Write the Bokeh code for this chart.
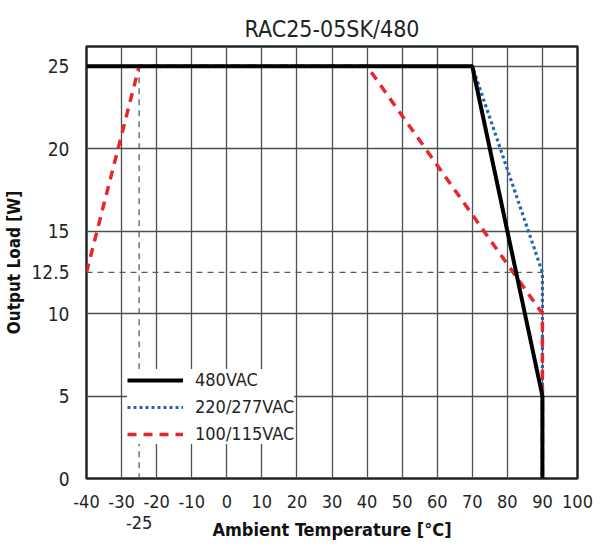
from bokeh.plotting import figure
from bokeh.models import FixedTicker, Legend, LegendItem, Range1d, ColumnDataSource
from bokeh.embed import file_html
from bokeh.resources import INLINE

# ---- data ----
title_text = "RAC25-05SK/480"
x_label = "Ambient Temperature [°C]"
y_label = "Output Load [W]"

x_ticks = [-40, -30, -20, -10, 0, 10, 20, 30, 40, 50, 60, 70, 80, 90, 100]
y_ticks = [0, 5, 10, 12.5, 15, 20, 25]
x_grid = [-30, -20, -10, 0, 10, 20, 30, 40, 50, 60, 70, 80, 90]
y_grid = [5, 10, 15, 20, 25]
extra_tick = -25

series_names = ["480VAC", "220/277VAC", "100/115VAC"]
temp_480 = [-40, 70, 90, 90]
load_480 = [25, 25, 5, 0]
temp_277 = [-40, 70, 90, 90]
load_277 = [25, 25, 12.5, 0]
temp_115 = [-40, -25, 40, 90, 90]
load_115 = [12.5, 25, 25, 10, 0]

# derating reference lines (dashed grey)
ref_x0 = [-25, -40]
ref_y0 = [25, 12.5]
ref_x1 = [-25, 90]
ref_y1 = [0, 12.5]

FONT = "'Liberation Sans Narrow', 'Arial Narrow', 'DejaVu Sans Condensed', sans-serif"
TXT = "#1e2624"

p = figure(width=593, height=542, x_range=Range1d(-40, 100), y_range=Range1d(0, 26.2),
           output_backend="svg", toolbar_location=None,
           min_border_left=86, min_border_right=16, min_border_top=46, min_border_bottom=60)

p.title.text = title_text
p.title.align = "center"
p.title.text_font = FONT
p.title.text_font_size = "23px"
p.title.text_font_style = "normal"
p.title.text_color = TXT
p.title.standoff = 10

p.outline_line_color = "#1c2624"
p.outline_line_width = 2.5
p.background_fill_color = "white"
p.border_fill_color = "white"

for ax in (p.xaxis[0], p.yaxis[0]):
    ax.axis_line_color = None
    ax.major_tick_line_color = None
    ax.minor_tick_line_color = None
    ax.major_label_text_font = FONT
    ax.major_label_text_color = TXT
    ax.axis_label_text_font = FONT
    ax.axis_label_text_font_style = "bold"
    ax.axis_label_text_color = "#111"

# x tick labels with plain hyphens; -25 sits on a second line
overrides = {t: str(t) for t in x_ticks if t < 0}
overrides[extra_tick] = " \n" + str(extra_tick)
p.xaxis.ticker = FixedTicker(ticks=x_ticks + [extra_tick])
p.xaxis.major_label_overrides = overrides
p.xaxis.major_label_text_line_height = 1.0
p.xaxis.major_label_text_font_size = "18px"
p.yaxis.major_label_text_font_size = "19px"
p.yaxis.ticker = FixedTicker(ticks=y_ticks)
p.xaxis.major_label_standoff = 6
p.yaxis.major_label_standoff = 11
p.xaxis.axis_label = x_label
p.yaxis.axis_label = y_label
p.xaxis.axis_label_text_font_size = "18px"
p.yaxis.axis_label_text_font_size = "17px"
p.xaxis.axis_label_standoff = -17
p.yaxis.axis_label_standoff = 4

p.xgrid.ticker = FixedTicker(ticks=x_grid)
p.ygrid.ticker = FixedTicker(ticks=y_grid)
for g in (p.xgrid[0], p.ygrid[0]):
    g.grid_line_color = "#4a5250"
    g.grid_line_width = 1.3

ref_src = ColumnDataSource(dict(x0=ref_x0, y0=ref_y0, x1=ref_x1, y1=ref_y1))
p.segment("x0", "y0", "x1", "y1", source=ref_src, line_color="#5a5f5e",
          line_width=1.3, line_dash="6 5")

r_277 = p.line(temp_277, load_277, line_color="#2b62b0", line_width=3.2, line_dash="3 3")
r_115 = p.line(temp_115, load_115, line_color="#e8262e", line_width=3.5, line_dash="9 7")
r_480 = p.line(temp_480, load_480, line_color="black", line_width=4)

legend = Legend(items=[LegendItem(label=series_names[0], renderers=[r_480]),
                       LegendItem(label=series_names[1], renderers=[r_277]),
                       LegendItem(label=series_names[2], renderers=[r_115])],
                location=(41, 34), background_fill_color="white", background_fill_alpha=1,
                border_line_color=None, glyph_width=56, glyph_height=20, label_height=20,
                spacing=6, padding=12, label_standoff=12, margin=0,
                label_text_font=FONT, label_text_font_size="18px", label_text_color=TXT)
p.add_layout(legend)

open("out.html", "w").write(file_html(p, INLINE))
